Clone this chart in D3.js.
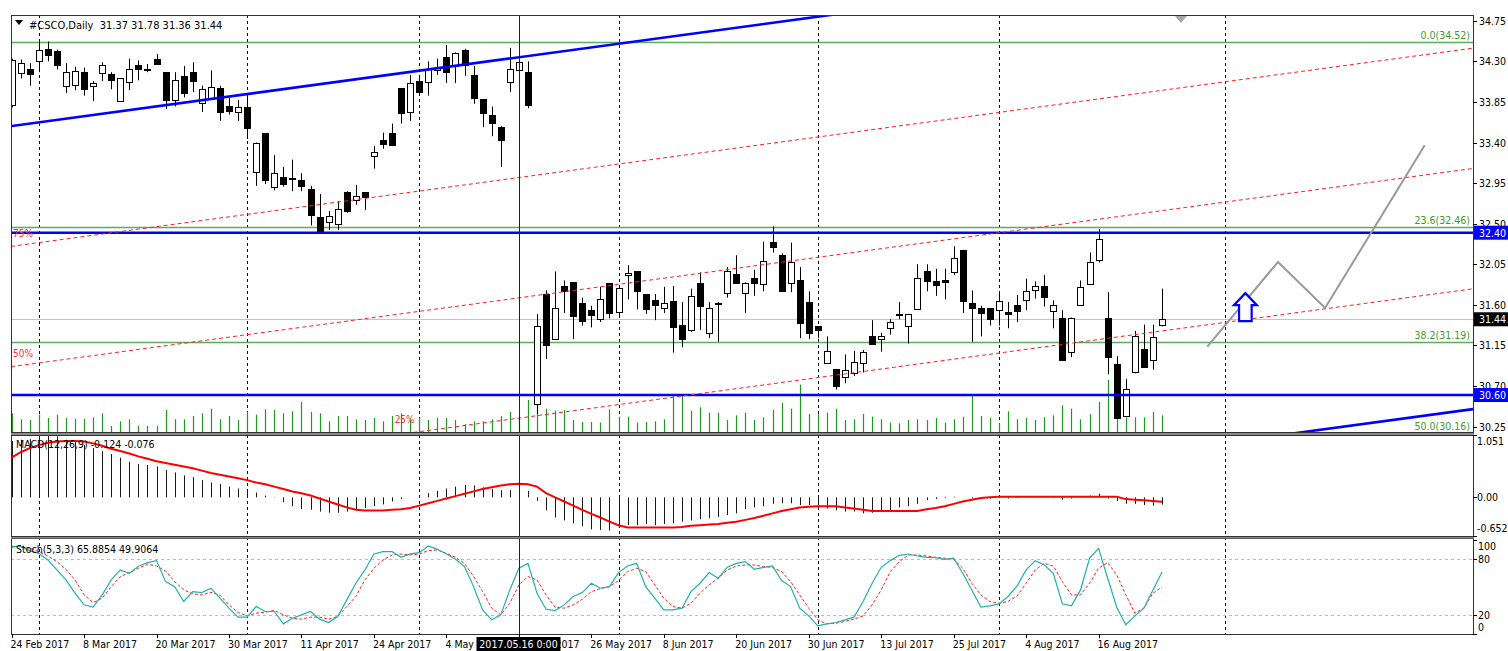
<!DOCTYPE html>
<html><head><meta charset="utf-8">
<script src="https://cdn.jsdelivr.net/npm/d3@7"></script>
<style>
body{margin:0;background:#fff}
svg{display:block}
text{font-family:"DejaVu Sans Condensed","DejaVu Sans",sans-serif;white-space:pre}
</style>
</head><body>
<svg id="c" width="1508" height="651" font-size="10.5px"></svg>
<script>
// ---------------- DATA ----------------
const dates = ["02-24","02-27","02-28","03-01","03-02","03-03","03-06","03-07","03-08","03-09","03-10","03-13","03-14","03-15","03-16","03-17","03-20","03-21","03-22","03-23","03-24","03-27","03-28","03-29","03-30","03-31","04-03","04-04","04-05","04-06","04-07","04-10","04-11","04-12","04-13","04-17","04-18","04-19","04-20","04-21","04-24","04-25","04-26","04-27","04-28","05-01","05-02","05-03","05-04","05-05","05-08","05-09","05-10","05-11","05-12","05-15","05-16","05-17","05-18","05-19","05-22","05-23","05-24","05-25","05-26","05-30","05-31","06-01","06-02","06-05","06-06","06-07","06-08","06-09","06-12","06-13","06-14","06-15","06-16","06-19","06-20","06-21","06-22","06-23","06-26","06-27","06-28","06-29","06-30","07-03","07-05","07-06","07-07","07-10","07-11","07-12","07-13","07-14","07-17","07-18","07-19","07-20","07-21","07-24","07-25","07-26","07-27","07-28","07-31","08-01","08-02","08-03","08-04","08-07","08-08","08-09","08-10","08-11","08-14","08-15","08-16","08-17","08-18","08-21","08-22","08-23","08-24","08-25"];
const open  = [33.81,34.17,34.22,34.31,34.44,34.42,34.02,34.03,34.18,34.03,34.17,34.16,33.85,34.08,34.26,34.22,34.33,34.18,33.87,34.14,34.18,33.83,33.90,34.01,33.80,33.73,33.79,33.08,33.50,32.91,33.02,33.01,32.98,32.89,32.57,32.51,32.49,32.85,32.77,32.85,33.25,33.43,33.50,34.00,33.74,34.08,34.08,34.21,34.35,34.25,34.43,34.15,33.88,33.70,33.57,34.08,34.20,34.18,30.51,31.72,31.22,31.81,31.85,31.62,31.54,31.44,31.84,31.52,31.93,31.97,31.72,31.65,31.56,31.64,31.38,31.32,31.84,31.29,31.62,31.74,31.94,31.73,31.90,31.84,32.30,32.15,31.85,31.87,31.63,31.36,30.96,30.89,30.80,30.85,30.96,31.26,31.22,31.34,31.50,31.37,31.56,31.97,31.86,31.87,31.97,32.21,31.62,31.57,31.56,31.54,31.52,31.60,31.65,31.77,31.81,31.53,31.45,31.07,31.60,31.84,32.10,31.45,30.94,30.37,30.85,31.11,30.98,31.37];
const high  = [34.33,34.32,34.28,34.52,34.52,34.43,34.28,34.24,34.23,34.08,34.29,34.18,34.11,34.33,34.31,34.27,34.38,34.18,34.18,34.25,34.29,34.03,34.20,34.03,33.90,33.87,33.94,33.40,33.50,33.26,33.13,33.21,33.06,32.92,32.83,32.64,32.75,32.86,32.93,32.85,33.36,33.51,33.61,34.00,34.15,34.15,34.30,34.33,34.48,34.40,34.44,34.25,33.88,33.80,33.58,34.45,34.35,34.30,31.50,31.76,31.97,31.87,31.85,31.68,31.59,31.80,31.84,31.79,32.04,31.97,31.72,31.72,31.80,31.81,31.63,31.78,31.96,31.63,31.63,32.02,32.15,31.85,31.99,32.30,32.47,32.17,32.29,32.02,31.75,31.36,31.25,30.89,31.05,31.09,31.10,31.43,31.29,31.44,31.63,31.50,32.05,32.05,32.00,32.00,32.25,32.21,31.76,31.59,31.56,31.73,31.63,31.71,31.89,31.86,31.93,31.65,31.54,31.46,31.87,32.18,32.44,31.74,31.03,30.78,31.31,31.38,31.38,31.78];
const low   = [33.79,34.11,34.03,34.18,34.30,34.21,33.95,33.98,33.92,33.86,34.08,33.99,33.85,33.98,34.09,34.18,34.26,33.77,33.80,33.90,33.96,33.74,33.88,33.64,33.71,33.64,33.44,32.92,32.94,32.87,32.91,32.86,32.86,32.48,32.40,32.43,32.43,32.62,32.71,32.65,33.11,33.33,33.36,33.61,33.64,33.96,33.92,34.15,34.06,34.06,34.14,33.83,33.57,33.47,33.13,33.96,34.18,33.78,30.39,31.00,31.22,31.51,31.22,31.37,31.35,31.41,31.45,31.47,31.66,31.55,31.50,31.43,31.51,31.07,31.13,31.30,31.32,31.23,31.19,31.68,31.84,31.51,31.70,31.75,32.18,31.75,31.74,31.23,31.22,31.23,30.96,30.66,30.73,30.81,30.85,31.17,31.08,31.27,31.44,31.17,31.56,31.75,31.70,31.66,31.93,31.51,31.19,31.25,31.37,31.37,31.34,31.41,31.54,31.67,31.58,31.34,30.98,31.02,31.60,31.82,32.07,30.83,30.34,30.36,30.84,30.91,30.88,31.36];
const close = [34.31,34.28,34.17,34.43,34.37,34.27,34.18,34.19,33.99,34.06,34.26,34.09,34.11,34.22,34.22,34.22,34.27,33.87,34.09,33.95,34.08,33.99,34.02,33.74,33.74,33.79,33.56,33.40,32.98,33.06,32.94,33.00,32.91,32.60,32.40,32.58,32.66,32.64,32.81,32.80,33.29,33.39,33.37,33.72,34.06,33.96,34.22,34.23,34.18,34.39,34.26,33.89,33.72,33.61,33.43,34.22,34.29,33.81,31.37,31.16,31.56,31.75,31.47,31.42,31.48,31.66,31.51,31.79,31.95,31.75,31.55,31.60,31.62,31.35,31.23,31.70,31.58,31.57,31.62,31.98,31.84,31.84,31.85,32.09,32.24,31.75,32.08,31.39,31.29,31.32,31.09,30.70,30.88,30.97,31.08,31.17,31.25,31.41,31.50,31.50,31.90,31.86,31.82,31.85,32.12,31.65,31.56,31.51,31.44,31.64,31.50,31.53,31.75,31.81,31.69,31.60,30.98,31.45,31.80,32.08,32.33,31.02,30.34,30.67,31.25,30.91,31.24,31.44];
const volume = [28,19,18,26,21,26,21,20,20,22,28,9,16,19,9,9,9,33,19,19,24,28,35,19,24,18,30,26,34,33,28,31,45,30,28,16,24,24,19,18,21,16,24,28,20,21,18,21,21,18,12,16,16,19,24,30,19,48,45,35,32,33,18,15,15,14,34,23,23,14,15,16,19,55,55,32,37,29,29,18,25,29,18,22,33,44,35,71,27,27,29,35,18,19,27,23,19,14,13,18,19,18,21,14,19,23,55,24,21,13,31,19,21,18,22,25,40,35,19,27,45,78,52,22,22,22,30,25];
const macdMain = [0.95,0.97,0.98,1.02,1.05,1.03,0.97,0.93,0.88,0.83,0.78,0.73,0.67,0.60,0.56,0.545,0.52,0.46,0.42,0.37,0.34,0.29,0.25,0.225,0.18,0.15,0.11,0.08,0.03,0.005,-0.08,-0.15,-0.20,-0.21,-0.24,-0.26,-0.26,-0.24,-0.21,-0.18,-0.15,-0.12,-0.07,-0.03,0.0,0.03,0.07,0.11,0.15,0.18,0.21,0.20,0.17,0.14,0.12,0.12,0.13,0.11,-0.06,-0.22,-0.34,-0.39,-0.44,-0.49,-0.54,-0.55,-0.56,-0.49,-0.47,-0.47,-0.45,-0.47,-0.45,-0.44,-0.41,-0.39,-0.37,-0.35,-0.33,-0.30,-0.27,-0.20,-0.17,-0.15,-0.11,-0.10,-0.10,-0.13,-0.13,-0.13,-0.19,-0.22,-0.24,-0.24,-0.27,-0.26,-0.24,-0.22,-0.17,-0.15,-0.11,-0.045,-0.03,-0.01,0.01,0.0,-0.02,-0.03,-0.02,0.0,-0.02,-0.01,0.0,0.01,0.0,-0.01,-0.04,-0.02,0.0,0.03,0.06,-0.02,-0.06,-0.11,-0.11,-0.13,-0.14,-0.124];
const macdSignal = [
  0.67,0.76,0.83,0.88,0.92,0.94,0.95,0.95,0.94,0.91,
  0.87,0.82,0.78,0.74,0.69,0.65,0.61,0.58,0.55,0.52,
  0.49,0.45,0.41,0.38,0.35,0.32,0.29,0.25,0.22,0.18,
  0.14,0.10,0.07,0.03,-0.02,-0.07,-0.12,-0.17,-0.21,-0.22,
  -0.22,-0.22,-0.21,-0.20,-0.18,-0.14,-0.10,-0.06,-0.02,0.02,
  0.06,0.10,0.14,0.17,0.20,0.22,0.23,0.22,0.18,0.07,
  0.0,-0.07,-0.14,-0.21,-0.28,-0.34,-0.41,-0.47,-0.51,-0.51,
  -0.51,-0.51,-0.51,-0.51,-0.50,-0.48,-0.47,-0.46,-0.45,-0.43,
  -0.41,-0.38,-0.35,-0.31,-0.27,-0.23,-0.20,-0.17,-0.16,-0.15,
  -0.15,-0.15,-0.17,-0.19,-0.21,-0.23,-0.23,-0.23,-0.23,-0.23,
  -0.23,-0.20,-0.18,-0.15,-0.11,-0.07,-0.04,-0.01,0.0,0.01,
  0.01,0.01,0.01,0.01,0.01,0.01,0.01,0.01,0.01,0.01,
  0.01,0.01,0.01,-0.03,-0.04,-0.05,-0.06,-0.076];
const stochMain = [93,92.7,88.5,85.6,78.6,68,57.4,43.3,31,28.5,41.5,57.4,68,64.5,72,75.8,77.9,55.6,50.3,34.5,45,44,48.6,38,27.4,17.9,17.9,29.2,23.9,23.9,10.8,16.8,20.3,23.9,15.8,12.2,18.6,36.2,53.9,68,85,87.4,87.4,81.4,85,86.4,93.4,89.9,85,79.3,71.5,50.3,25.6,15,20.3,46.8,69.8,75,43.3,26.3,24.9,30.9,39.8,44,53.9,48.6,50.3,65.2,72.2,75,50.3,38,25.6,25.6,27.4,45,53.9,65.2,59.2,70.8,75,76.8,68.7,70.8,72.2,56.7,50.3,27.4,19.3,8.7,10.8,12.2,15,17.9,34.5,53.9,70.8,77.9,83.5,84.9,82.8,81.4,81.1,79.3,80.4,64.5,46.8,28.5,29.9,32,39.8,51,68,77.9,73.3,64.5,32,29.9,46.8,80.4,90.9,59.2,28.5,9.8,19.3,27.4,46.8,65.89];
const stochSignal = [92,93.4,91,87.4,82.8,76.8,68.7,57.4,41.5,33.4,38,50.3,61,65.2,69.8,74,72.2,66.9,55.6,46.8,42.6,41.5,44.3,41.2,31,22.8,19.3,22.1,23.2,24.9,20.3,16.8,15.8,17.9,17.9,15.8,18.6,29.2,39.8,57.4,69.8,78.6,83.9,84.9,83.9,84.9,88.5,89.2,85.6,81.4,75,61,45,27.4,20.3,32.7,52.1,61,57.4,41.5,28.5,27.4,30.9,36.9,45,48.2,50.3,56.7,66.2,69.8,66.2,52.1,38,29.2,27.4,32.7,43.3,52.1,59.2,68,72.2,73.3,73.3,71.5,70.8,66.2,55.6,41.5,27.4,15,10.8,11.5,13.3,15.8,19.3,30.9,46.8,66.2,76.8,83.9,83.9,82.8,81.4,80.4,79.3,69.8,53.9,41.5,34.5,32.7,34.5,40.5,53.9,68,75,72.2,55.6,41.5,41.5,53.9,69.8,75.8,62.7,41.5,22.1,27.4,43.3,49.91];

const priceTicks = [34.75,34.30,33.85,33.40,32.95,32.50,32.05,31.60,31.15,30.70,30.25];
const macdTicks = [1.051,0.00,-0.652];
const macdTickLabels = ["1.051","0.00","-0.652"];
const stochTicks = [100,80,20,0];
const stochLevels = [80,20];
const xLabelIdx = [0,8,16,24,32,40,48,56,64,72,80,88,96,104,112,120];
const gridIdx = [3,26,45,67,89,109,134];
const fibPct = ["0.0","23.6","38.2","50.0"];
const fibPrice = [34.52,32.46,31.19,30.16];
const levelPrices = [32.40,30.60];
const lastPrice = 31.44;
const channelIdx = [0,100];
const channelUpper = [33.583,34.945];
const channelLower = [28.247,29.609];
const channelLevels = [0.25,0.5,0.75];
const channelLevelLabels = ["25%","50%","75%"];
const zigzagIdx = [132,139.8,145,156];
const zigzagPrice = [31.136,32.075,31.565,33.37];
const arrowIdx = 136.2, arrowPrice = 31.73;
const crossIdx = 56, crossLabel = "2017.05.16 0:00";
const headerText = "#CSCO,Daily  31.37 31.78 31.36 31.44";
const macdText = "MACD(12,26,9) -0.124 -0.076";
const stochText = "Stoch(5,3,3) 65.8854 49.9064";

// -------------- sanity --------------
const N = dates.length;
[open,high,low,close,volume,macdMain,macdSignal,stochMain,stochSignal].forEach((a,k)=>{ if(a.length!==N) throw new Error("len mismatch "+k+": "+a.length+" vs "+N); });

// ---------------- LAYOUT ----------------
const L = 11, R = 1473;
const P = {top:15, bottom:432}, M = {top:435, bottom:536}, S = {top:538, bottom:634};
const svg = d3.select("#c");
const x = d3.scaleLinear().domain([0,161.33]).range([11.6,1473]);
const y = d3.scaleLinear().domain([30.19,34.814]).range([P.bottom,P.top]);
const yv = d3.scaleLinear().domain([0,150]).range([P.bottom,P.bottom-100]);
const ym = d3.scaleLinear().domain([-0.652,1.051]).range([M.bottom,M.top]);
const ys = d3.scaleLinear().domain([0,100]).range([S.bottom,539.8]);
const cx = i => Math.round(x(i)) + 0.5;
const parse = d3.timeParse("%Y-%m-%d");
const fmt = d3.timeFormat("%-d %b %Y");
const idx = d3.range(N);

svg.append("rect").attr("width",1508).attr("height",651).attr("fill","#fff");
const defs = svg.append("defs");
[["cp",P],["cm",M],["cs",S]].forEach(([id,p])=>{
  defs.append("clipPath").attr("id",id).append("rect").attr("x",L+1).attr("y",p.top+1).attr("width",R-L-1).attr("height",p.bottom-p.top-1);
});

// grid
svg.append("g").selectAll("line").data(gridIdx).join("line")
  .attr("x1",cx).attr("x2",cx).attr("y1",P.top).attr("y2",S.bottom)
  .attr("stroke","#111").attr("stroke-width",1).attr("stroke-dasharray","3,3");

// ---------------- MAIN PANEL ----------------
const gm = svg.append("g").attr("clip-path","url(#cp)");
gm.selectAll("line.fib").data(fibPrice).join("line").attr("class","fib")
  .attr("x1",L).attr("x2",R).attr("y1",d=>Math.round(y(d))+0.5).attr("y2",d=>Math.round(y(d))+0.5)
  .attr("stroke","#5aad5a").attr("stroke-width",1.5);
gm.append("line").attr("x1",L).attr("x2",R).attr("y1",Math.round(y(lastPrice))+0.5).attr("y2",Math.round(y(lastPrice))+0.5)
  .attr("stroke","#c4c4c4").attr("stroke-width",1);
gm.selectAll("line.vol").data(idx).join("line").attr("class","vol")
  .attr("x1",cx).attr("x2",cx).attr("y1",P.bottom).attr("y2",i=>yv(volume[i]))
  .attr("stroke","#1e9a1e").attr("stroke-width",1.2);
gm.selectAll("line.wick").data(idx).join("line").attr("class","wick")
  .attr("x1",cx).attr("x2",cx).attr("y1",i=>y(high[i])).attr("y2",i=>y(low[i]))
  .attr("stroke","#000").attr("stroke-width",1);
gm.selectAll("rect.body").data(idx).join("rect").attr("class","body")
  .attr("x",i=>Math.round(x(i))-2.5).attr("width",6)
  .attr("y",i=>Math.round(y(Math.max(open[i],close[i])))+0.5)
  .attr("height",i=>Math.max(1,Math.round(Math.abs(y(open[i])-y(close[i])))))
  .attr("fill",i=>close[i]>=open[i]?"#fff":"#000").attr("stroke","#000").attr("stroke-width",1);
gm.selectAll("line.lvl").data(levelPrices).join("line").attr("class","lvl")
  .attr("x1",L).attr("x2",R).attr("y1",d=>y(d)).attr("y2",d=>y(d))
  .attr("stroke","#0000ff").attr("stroke-width",2.6);
const chAt = (arr,i)=> arr[0] + (arr[1]-arr[0])*(i-channelIdx[0])/(channelIdx[1]-channelIdx[0]);
const iL = x.invert(L), iR = x.invert(R);
[channelUpper,channelLower].forEach(arr=>{
  gm.append("line").attr("x1",L).attr("x2",R).attr("y1",y(chAt(arr,iL))).attr("y2",y(chAt(arr,iR)))
    .attr("stroke","#0000ff").attr("stroke-width",2.6);
});
channelLevels.forEach((lv,k)=>{
  const pL = chAt(channelLower,iL)+lv*(chAt(channelUpper,iL)-chAt(channelLower,iL));
  const pR = chAt(channelLower,iR)+lv*(chAt(channelUpper,iR)-chAt(channelLower,iR));
  gm.append("line").attr("x1",L).attr("x2",R).attr("y1",y(pL)).attr("y2",y(pR))
    .attr("stroke","#ff2020").attr("stroke-width",1).attr("stroke-dasharray","4,3");
  const yl = y(pL), yr = y(pR);
  let lx = L+2;
  if (yl > P.bottom) { const t=(yl-P.bottom)/(yl-yr); lx = L + t*(R-L) - 22; }
  const ly = Math.min(yl + (yr-yl)*(lx-L)/(R-L), P.bottom) - 9;
  gm.append("text").attr("x",lx).attr("y",ly).attr("fill","#ff3030").style("font-size","10px").text(channelLevelLabels[k]);
});
gm.append("path").datum(zigzagIdx.map((d,k)=>[x(d),y(zigzagPrice[k])]))
  .attr("d",d3.line()).attr("fill","none").attr("stroke","#999").attr("stroke-width",2);
{
  const ax = x(arrowIdx), ay = y(arrowPrice);
  const pts = [[0,0],[11.5,12],[6.3,12],[6.3,28],[-6.3,28],[-6.3,12],[-11.5,12]].map(p=>[ax+p[0],ay+p[1]]);
  gm.append("path").attr("d","M"+pts.join("L")+"Z").attr("fill","#fff").attr("stroke","#0000ff").attr("stroke-width",2.2).attr("stroke-linejoin","miter");
}
svg.selectAll("text.fibl").data(fibPrice).join("text").attr("class","fibl")
  .attr("x",R-3).attr("y",d=>Math.min(y(d)-3,P.bottom-2)).attr("text-anchor","end").attr("fill","#3f9a2f")
  .text((d,k)=>fibPct[k]+"("+d.toFixed(2)+")");
svg.append("path").attr("d","M15,20 L23,20 L19,25 Z").attr("fill","#000");
svg.append("text").attr("x",29).attr("y",29).attr("fill","#000").style("font-size","11px").text(headerText);
svg.append("path").attr("d","M1175,16 L1187,16 L1181,23 Z").attr("fill","#a8a8a8");

// ---------------- MACD ----------------
const gmc = svg.append("g").attr("clip-path","url(#cm)");
gmc.selectAll("line.h").data(idx).join("line").attr("class","h")
  .attr("x1",cx).attr("x2",cx).attr("y1",ym(0)).attr("y2",i=>ym(macdMain[i]))
  .attr("stroke","#1a1a1a").attr("stroke-width",1);
gmc.append("path").datum(idx).attr("d",d3.line().x(i=>x(i)).y(i=>ym(macdSignal[i])))
  .attr("fill","none").attr("stroke","#ff0000").attr("stroke-width",2);
svg.append("text").attr("x",16).attr("y",448).attr("fill","#000").text(macdText);

// ---------------- STOCH ----------------
const gs = svg.append("g").attr("clip-path","url(#cs)");
gs.selectAll("line.lv").data(stochLevels).join("line").attr("class","lv")
  .attr("x1",L).attr("x2",R).attr("y1",d=>Math.round(ys(d))+0.5).attr("y2",d=>Math.round(ys(d))+0.5)
  .attr("stroke","#bdbdbd").attr("stroke-width",1).attr("stroke-dasharray","3,3");
gs.append("path").datum(idx).attr("d",d3.line().x(i=>x(i)).y(i=>ys(stochSignal[i])))
  .attr("fill","none").attr("stroke","#ff2020").attr("stroke-width",1).attr("stroke-dasharray","3,2");
gs.append("path").datum(idx).attr("d",d3.line().x(i=>x(i)).y(i=>ys(stochMain[i])))
  .attr("fill","none").attr("stroke","#20b2aa").attr("stroke-width",1.2);
svg.append("text").attr("x",16).attr("y",553).attr("fill","#000").text(stochText);

svg.append("line").attr("x1",cx(crossIdx)).attr("x2",cx(crossIdx)).attr("y1",P.top).attr("y2",637)
  .attr("stroke","#222").attr("stroke-width",1);

// ---------------- FRAMES ----------------
[P,M,S].forEach(p=>{
  svg.append("rect").attr("x",L+0.5).attr("y",p.top+0.5).attr("width",R-L).attr("height",p.bottom-p.top)
    .attr("fill","none").attr("stroke","#333").attr("stroke-width",1);
});
svg.append("rect").attr("x",L).attr("y",P.bottom+1).attr("width",R-L+1).attr("height",2).attr("fill","#8a8a8a");
svg.append("rect").attr("x",L).attr("y",M.bottom+1).attr("width",R-L+1).attr("height",1.5).attr("fill","#8a8a8a");

// ---------------- AXES ----------------
const ga = svg.append("g");
ga.selectAll("line.pt").data(priceTicks).join("line").attr("class","pt")
  .attr("x1",R).attr("x2",R+4).attr("y1",d=>Math.round(y(d))+0.5).attr("y2",d=>Math.round(y(d))+0.5).attr("stroke","#000");
ga.selectAll("text.pt").data(priceTicks).join("text").attr("class","pt")
  .attr("x",R+6).attr("y",d=>y(d)+4).attr("fill","#000").text(d=>d.toFixed(2));
function box(price, color, txt){
  const yy = y(price);
  ga.append("rect").attr("x",R+1).attr("y",yy-7).attr("width",34).attr("height",14).attr("fill",color);
  ga.append("text").attr("x",R+6).attr("y",yy+4).attr("fill","#fff").text(txt);
}
levelPrices.forEach(p=>box(p,"#0000ff",p.toFixed(2)));
box(lastPrice,"#000",lastPrice.toFixed(2));
ga.selectAll("line.mt").data(macdTicks).join("line").attr("class","mt")
  .attr("x1",R).attr("x2",R+4).attr("y1",d=>Math.round(ym(d))+0.5).attr("y2",d=>Math.round(ym(d))+0.5).attr("stroke","#000");
ga.selectAll("text.mt").data(macdTicks).join("text").attr("class","mt")
  .attr("x",R+4).attr("y",d=>Math.min(Math.max(ym(d)+4,M.top+10),M.bottom-4)).attr("fill","#000").text((d,k)=>macdTickLabels[k]);
ga.selectAll("line.st").data(stochTicks).join("line").attr("class","st")
  .attr("x1",R).attr("x2",R+4).attr("y1",d=>Math.round(ys(d))+0.5).attr("y2",d=>Math.round(ys(d))+0.5).attr("stroke","#000");
ga.selectAll("text.st").data(stochTicks).join("text").attr("class","st")
  .attr("x",R+5).attr("y",d=>Math.min(Math.max(ys(d)+4,S.top+12),S.bottom-3)).attr("fill","#000").text(d=>d);
ga.selectAll("line.xt").data(xLabelIdx).join("line").attr("class","xt")
  .attr("x1",cx).attr("x2",cx).attr("y1",S.bottom).attr("y2",S.bottom+4).attr("stroke","#000");
ga.selectAll("text.xt").data(xLabelIdx).join("text").attr("class","xt")
  .attr("x",i=>x(i)-1).attr("y",648).attr("fill","#000").text(i=>fmt(parse("2017-"+dates[i])));
ga.append("rect").attr("x",cx(crossIdx)-43).attr("y",637).attr("width",84).attr("height",14).attr("fill","#000");
ga.append("text").attr("x",cx(crossIdx)-1).attr("y",648).attr("text-anchor","middle").attr("fill","#fff").text(crossLabel);
</script>
</body></html>
